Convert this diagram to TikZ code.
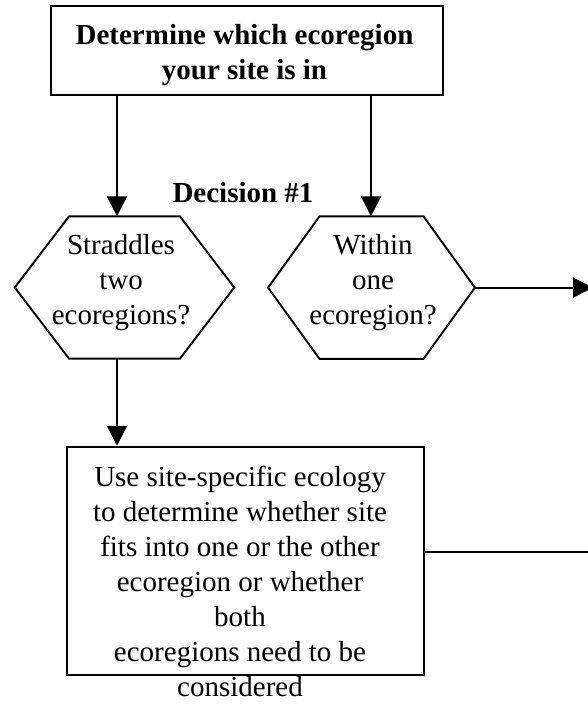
\documentclass[tikz,border=0pt]{standalone}
\usepackage{fontspec}
\setmainfont{Liberation Serif}
\usetikzlibrary{arrows.meta}

\newcommand{\hexline}[2]{\draw ([xshift=#2]#1.north west) -- ([xshift=-#2]#1.north east) -- (#1.east) -- ([xshift=-#2]#1.south east) -- ([xshift=#2]#1.south west) -- (#1.west) -- cycle;}

\begin{document}
\begin{tikzpicture}[x=1pt,y=-1pt,line width=1.9pt,
  lbl/.style={inner sep=0pt, align=center, anchor=north, font=\fontsize{29}{35}\selectfont},
  boldlbl/.style={lbl, font=\fontsize{29}{35}\selectfont\bfseries},
  frame/.style={draw, inner sep=0pt},
  hexa/.style={inner sep=0pt},
  arr/.style={-{Triangle[length=20pt,width=20pt]}}]
\useasboundingbox (0,0) rectangle (588,704);

\node[frame, minimum width=392pt, minimum height=89pt] (site) at (247,50.5) {};
\node[boldlbl] (sitetext) at (244.5,23.2) {Determine which ecoregion\\your site is in};

\node[boldlbl, anchor=base] (decision) at (243,202) {Decision \#1};

\node[hexa, minimum width=217.6pt, minimum height=140.4pt] (straddle) at (124.5,287.5) {};
\hexline{straddle}{54.3pt}
\node[lbl] (straddletext) at (121,233.5) {Straddles\\two\\ecoregions?};

\node[hexa, minimum width=205pt, minimum height=140.7pt] (within) at (371.5,287.6) {};
\hexline{within}{51.5pt}
\node[lbl] (withintext) at (373,233.2) {Within\\one\\ecoregion?};

\node[frame, minimum width=357pt, minimum height=228.6pt] (sitespecific) at (245.2,561) {};
\node[lbl] (sitespecifictext) at (240,465.2) {Use site-specific ecology\\to determine whether site\\fits into one or the other\\ecoregion or whether\\both\\ecoregions need to be\\considered};

\coordinate (lcol) at (117,0);
\coordinate (rcol) at (371,0);
\coordinate (out1) at (593,287.6);
\coordinate (out2) at (588,552.3);

\draw[arr] (site.south -| lcol) -- (straddle.north -| lcol);
\draw[arr] (site.south -| rcol) -- (within.north -| rcol);
\draw[arr] (within.east) -- (out1);
\draw[arr] (straddle.south -| lcol) -- (sitespecific.north -| lcol);
\draw (sitespecific.east |- out2) -- (out2);

\end{tikzpicture}
\end{document}
